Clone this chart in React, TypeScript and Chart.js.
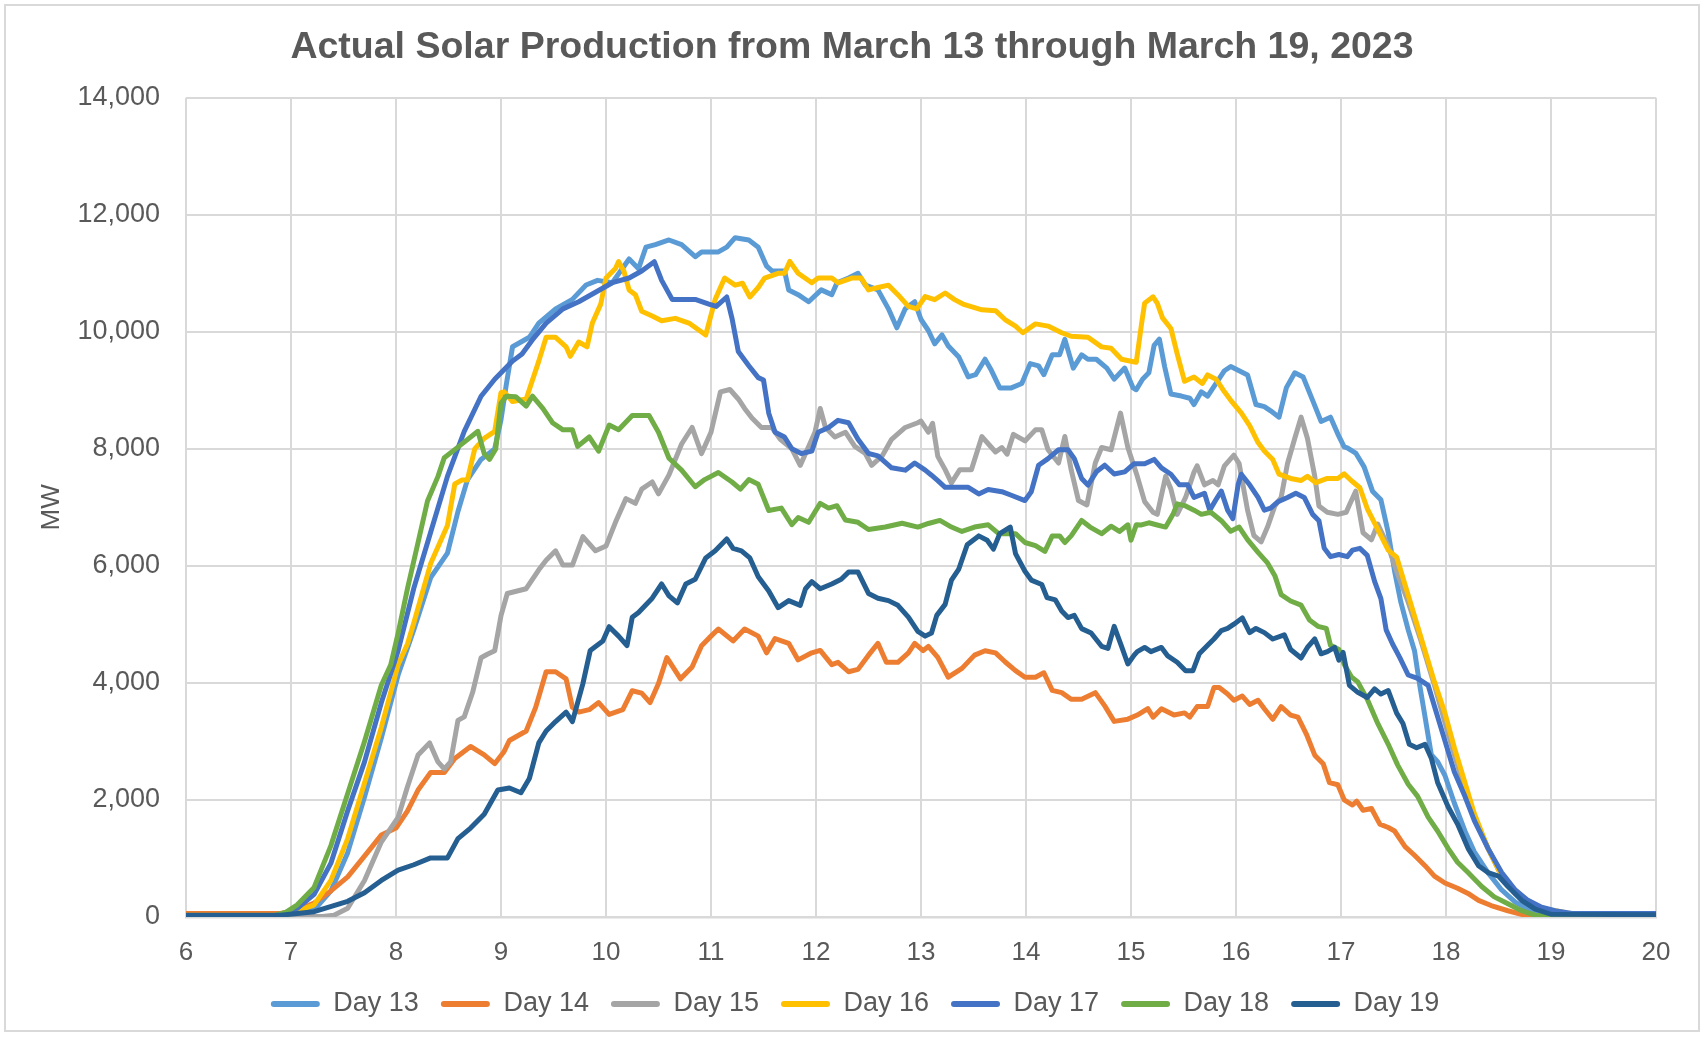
import { useEffect, useRef } from "react";
import { Chart, registerables } from "chart.js";

Chart.register(...registerables);

const chartTitle = "Actual Solar Production from March 13 through March 19, 2023";
const yAxisTitle = "MW";
const seriesNames = ["Day 13", "Day 14", "Day 15", "Day 16", "Day 17", "Day 18", "Day 19"];
const seriesColors = ["#5B9BD5", "#ED7D31", "#A5A5A5", "#FFC000", "#4472C4", "#70AD47", "#255E91"];
const xMin = 6;
const xMax = 20;
const xStep = 1;
const yMin = 0;
const yMax = 14000;
const yStep = 2000;

// [hour, MW]
const day13: [number, number][] = [
  [6, 40], [6.9, 40], [7.06, 70], [7.22, 119], [7.38, 446], [7.54, 1100], [7.7, 2050], [7.86, 3060], [8.02, 4135],
  [8.17, 4910], [8.33, 5800], [8.49, 6220], [8.59, 6930], [8.68, 7470], [8.81, 7820], [8.94, 8000], [9.0, 8500],
  [9.05, 9096], [9.11, 9745], [9.27, 9907], [9.36, 10150], [9.52, 10393], [9.68, 10555], [9.81, 10800], [9.92, 10880],
  [10.06, 10840], [10.22, 11245], [10.31, 11080], [10.38, 11447], [10.47, 11490], [10.6, 11570], [10.72, 11490],
  [10.85, 11285], [10.91, 11366], [11.07, 11366], [11.15, 11447], [11.23, 11609], [11.36, 11569], [11.45, 11447],
  [11.53, 11123], [11.58, 11042], [11.7, 11042], [11.74, 10717], [11.83, 10636], [11.93, 10515], [12.05, 10717],
  [12.15, 10636], [12.2, 10839], [12.31, 10920], [12.4, 11001], [12.47, 10798], [12.59, 10717], [12.69, 10393],
  [12.77, 10069], [12.85, 10393], [12.94, 10515], [13.0, 10211], [13.07, 10023], [13.13, 9796], [13.2, 9947],
  [13.26, 9758], [13.36, 9570], [13.45, 9230], [13.52, 9268], [13.61, 9532], [13.67, 9343], [13.75, 9042],
  [13.86, 9042], [13.96, 9117], [14.04, 9457], [14.12, 9419], [14.17, 9268], [14.25, 9608], [14.32, 9608],
  [14.37, 9872], [14.45, 9381], [14.53, 9608], [14.59, 9532], [14.67, 9532], [14.77, 9381], [14.84, 9192],
  [14.94, 9381], [15.02, 9042], [15.05, 9011], [15.11, 9191], [15.17, 9300], [15.22, 9769], [15.27, 9877],
  [15.32, 9408], [15.38, 8939], [15.48, 8903], [15.56, 8866], [15.6, 8758], [15.67, 8975], [15.73, 8903],
  [15.81, 9119], [15.89, 9336], [15.95, 9408], [16.03, 9336], [16.11, 9264], [16.19, 8758], [16.27, 8722],
  [16.33, 8650], [16.41, 8542], [16.48, 9047], [16.56, 9300], [16.64, 9227], [16.73, 8830], [16.81, 8469],
  [16.9, 8542], [16.97, 8253], [17.03, 8036], [17.06, 8018], [17.14, 7929], [17.22, 7692], [17.3, 7277],
  [17.38, 7129], [17.45, 6566], [17.51, 5914], [17.57, 5381], [17.64, 4907], [17.7, 4551], [17.75, 3959],
  [17.8, 3425], [17.86, 2773], [17.92, 2655], [17.99, 2418], [18.08, 1944], [18.18, 1470], [18.27, 1114],
  [18.4, 759], [18.53, 462], [18.66, 255], [18.78, 136], [18.91, 77], [19.1, 50], [20, 50],
];

const day14: [number, number][] = [
  [6, 60], [6.9, 60], [7.06, 119], [7.22, 238], [7.38, 446], [7.54, 685], [7.7, 1040], [7.86, 1400], [8.0, 1520],
  [8.11, 1815], [8.21, 2170], [8.33, 2470], [8.46, 2470], [8.56, 2710], [8.71, 2915], [8.84, 2770], [8.94, 2620],
  [9.03, 2830], [9.08, 3016], [9.24, 3178], [9.33, 3583], [9.43, 4191], [9.52, 4191], [9.62, 4070], [9.68, 3583],
  [9.74, 3502], [9.84, 3543], [9.93, 3664], [10.03, 3462], [10.16, 3543], [10.25, 3867], [10.34, 3826],
  [10.42, 3664], [10.5, 3989], [10.58, 4434], [10.71, 4070], [10.82, 4272], [10.91, 4637], [11.0, 4800],
  [11.07, 4921], [11.21, 4718], [11.32, 4921], [11.45, 4800], [11.53, 4515], [11.61, 4759], [11.74, 4677],
  [11.83, 4394], [11.96, 4515], [12.04, 4556], [12.15, 4313], [12.21, 4353], [12.31, 4191], [12.4, 4232],
  [12.5, 4475], [12.59, 4677], [12.67, 4353], [12.78, 4353], [12.88, 4515], [12.94, 4677], [13.02, 4551],
  [13.07, 4626], [13.16, 4438], [13.26, 4098], [13.39, 4249], [13.51, 4475], [13.61, 4551], [13.71, 4513],
  [13.8, 4362], [13.9, 4211], [13.99, 4098], [14.09, 4098], [14.17, 4174], [14.25, 3872], [14.34, 3834],
  [14.43, 3721], [14.53, 3721], [14.66, 3834], [14.75, 3608], [14.84, 3343], [14.97, 3381], [15.06, 3451],
  [15.16, 3560], [15.21, 3415], [15.29, 3560], [15.41, 3451], [15.51, 3488], [15.56, 3415], [15.63, 3596],
  [15.73, 3596], [15.79, 3921], [15.84, 3921], [15.92, 3812], [15.98, 3704], [16.06, 3776], [16.13, 3632],
  [16.21, 3704], [16.27, 3560], [16.35, 3379], [16.43, 3596], [16.52, 3451], [16.59, 3415], [16.67, 3127],
  [16.75, 2766], [16.83, 2621], [16.89, 2297], [16.97, 2260], [17.03, 2003], [17.11, 1914], [17.15, 1980],
  [17.21, 1825], [17.29, 1855], [17.37, 1588], [17.45, 1529], [17.51, 1470], [17.61, 1203], [17.7, 1055],
  [17.8, 877], [17.89, 699], [17.99, 581], [18.11, 492], [18.21, 403], [18.31, 285], [18.43, 196], [18.59, 107],
  [18.75, 30], [19, 20], [20, 20],
];

const day15: [number, number][] = [
  [6, 10], [7.3, 10], [7.41, 30], [7.54, 150], [7.7, 625], [7.86, 1280], [8.02, 1700], [8.11, 2230], [8.21, 2770],
  [8.32, 2975], [8.4, 2650], [8.46, 2530], [8.52, 2650], [8.59, 3360], [8.65, 3420], [8.73, 3840], [8.81, 4430],
  [8.87, 4490], [8.94, 4550], [9.0, 5150], [9.06, 5529], [9.24, 5610], [9.36, 5934], [9.43, 6096], [9.52, 6258],
  [9.59, 6015], [9.68, 6015], [9.78, 6501], [9.9, 6258], [10.0, 6339], [10.09, 6745], [10.19, 7150], [10.28, 7070],
  [10.34, 7312], [10.44, 7434], [10.5, 7231], [10.6, 7556], [10.72, 8083], [10.82, 8366], [10.91, 7920],
  [11.0, 8285], [11.09, 8974], [11.18, 9015], [11.26, 8853], [11.32, 8691], [11.39, 8528], [11.48, 8366],
  [11.58, 8366], [11.66, 8164], [11.77, 8002], [11.85, 7718], [11.93, 8042], [11.99, 8285], [12.04, 8691],
  [12.09, 8366], [12.18, 8204], [12.28, 8285], [12.37, 8042], [12.47, 7921], [12.53, 7718], [12.63, 7880],
  [12.72, 8164], [12.85, 8366], [12.97, 8447], [13.0, 8475], [13.07, 8287], [13.11, 8438], [13.16, 7872],
  [13.23, 7645], [13.29, 7419], [13.37, 7645], [13.48, 7645], [13.58, 8211], [13.71, 7947], [13.77, 8023],
  [13.82, 7909], [13.88, 8249], [13.99, 8136], [14.09, 8325], [14.15, 8325], [14.21, 7985], [14.31, 7759],
  [14.37, 8211], [14.43, 7645], [14.5, 7117], [14.58, 7042], [14.66, 7759], [14.72, 8023], [14.81, 7985],
  [14.9, 8611], [14.97, 8023], [15.06, 7531], [15.13, 7098], [15.21, 6917], [15.25, 6881], [15.33, 7531],
  [15.38, 7314], [15.44, 6881], [15.52, 7170], [15.6, 7603], [15.63, 7711], [15.7, 7386], [15.78, 7459],
  [15.83, 7386], [15.89, 7711], [15.98, 7892], [16.03, 7747], [16.11, 6953], [16.17, 6520], [16.24, 6412],
  [16.3, 6664], [16.37, 7025], [16.43, 7170], [16.49, 7747], [16.56, 8181], [16.62, 8542], [16.68, 8181],
  [16.75, 7531], [16.79, 7025], [16.87, 6917], [16.97, 6881], [17.05, 6917], [17.08, 7040], [17.14, 7277],
  [17.21, 6566], [17.29, 6447], [17.35, 6714], [17.45, 6329], [17.54, 5855], [17.64, 5381], [17.76, 4729],
  [17.89, 3959], [18.02, 3129], [18.15, 2359], [18.27, 1707], [18.4, 1173], [18.53, 699], [18.66, 400],
  [18.85, 136], [19.05, 40], [20, 40],
];

const day16: [number, number][] = [
  [6, 30], [6.95, 30], [7.06, 100], [7.22, 208], [7.38, 625], [7.54, 1340], [7.7, 2290], [7.86, 3240], [8.02, 4310],
  [8.11, 4670], [8.17, 5030], [8.33, 6040], [8.49, 6690], [8.56, 7400], [8.63, 7470], [8.68, 7470], [8.75, 8000],
  [8.84, 8180], [8.94, 8300], [9.0, 8960], [9.03, 8975], [9.11, 8810], [9.24, 8853], [9.3, 9177], [9.36, 9500],
  [9.43, 9907], [9.52, 9907], [9.62, 9745], [9.66, 9582], [9.74, 9826], [9.82, 9745], [9.87, 10150], [9.95, 10474],
  [10.0, 10920], [10.09, 11082], [10.12, 11200], [10.17, 11040], [10.22, 10717], [10.28, 10636], [10.34, 10352],
  [10.44, 10272], [10.53, 10190], [10.66, 10231], [10.79, 10150], [10.95, 9947], [11.04, 10555], [11.13, 10920],
  [11.23, 10798], [11.3, 10830], [11.37, 10596], [11.45, 10758], [11.51, 10920], [11.64, 11001], [11.7, 11001],
  [11.75, 11204], [11.83, 11001], [11.96, 10839], [12.02, 10920], [12.15, 10920], [12.21, 10839], [12.34, 10920],
  [12.43, 10920], [12.5, 10717], [12.59, 10758], [12.69, 10798], [12.78, 10636], [12.88, 10434], [12.96, 10393],
  [13.04, 10604], [13.13, 10551], [13.23, 10664], [13.32, 10551], [13.4, 10475], [13.58, 10377], [13.71, 10362],
  [13.8, 10211], [13.9, 10098], [13.97, 9985], [14.09, 10136], [14.21, 10098], [14.34, 9985], [14.43, 9925],
  [14.59, 9909], [14.72, 9743], [14.81, 9721], [14.91, 9532], [15.01, 9494], [15.05, 9480], [15.1, 10130],
  [15.13, 10491], [15.21, 10599], [15.25, 10491], [15.3, 10238], [15.38, 10058], [15.44, 9625], [15.51, 9155],
  [15.6, 9227], [15.68, 9119], [15.73, 9264], [15.81, 9191], [15.89, 8975], [15.95, 8830], [16.05, 8614],
  [16.13, 8397], [16.21, 8108], [16.27, 7964], [16.35, 7820], [16.41, 7567], [16.52, 7495], [16.62, 7459],
  [16.68, 7531], [16.76, 7423], [16.87, 7495], [16.97, 7495], [17.03, 7573], [17.1, 7455], [17.18, 7336],
  [17.25, 6981], [17.35, 6625], [17.45, 6270], [17.53, 6151], [17.61, 5677], [17.7, 5144], [17.8, 4551],
  [17.89, 4018], [17.99, 3484], [18.08, 2892], [18.18, 2300], [18.27, 1766], [18.4, 1173], [18.53, 699],
  [18.66, 403], [18.78, 225], [18.91, 136], [19.04, 107], [19.2, 50], [20, 50],
];

const day17: [number, number][] = [
  [6, 20], [6.9, 30], [7.06, 150], [7.22, 387], [7.38, 920], [7.54, 1815], [7.7, 2650], [7.86, 3660], [8.02, 4550],
  [8.17, 5620], [8.33, 6575], [8.49, 7530], [8.65, 8300], [8.81, 8900], [8.94, 9190], [9.11, 9500], [9.2, 9623],
  [9.3, 9866], [9.43, 10150], [9.59, 10393], [9.74, 10515], [9.9, 10677], [10.06, 10840], [10.22, 10920],
  [10.34, 11040], [10.46, 11200], [10.53, 10880], [10.63, 10555], [10.72, 10555], [10.85, 10555], [10.98, 10474],
  [11.05, 10434], [11.15, 10596], [11.2, 10231], [11.26, 9663], [11.36, 9420], [11.45, 9218], [11.5, 9177],
  [11.55, 8610], [11.61, 8285], [11.7, 8204], [11.77, 8002], [11.86, 7921], [11.96, 7961], [12.02, 8285],
  [12.12, 8366], [12.21, 8488], [12.31, 8447], [12.4, 8164], [12.5, 7921], [12.59, 7880], [12.72, 7677],
  [12.85, 7637], [12.94, 7758], [13.04, 7637], [13.1, 7550], [13.16, 7457], [13.23, 7343], [13.36, 7343],
  [13.45, 7343], [13.55, 7230], [13.64, 7306], [13.77, 7268], [13.86, 7208], [13.99, 7117], [14.05, 7268],
  [14.12, 7721], [14.21, 7834], [14.31, 7985], [14.4, 7985], [14.46, 7834], [14.53, 7494], [14.59, 7381],
  [14.67, 7608], [14.75, 7721], [14.84, 7570], [14.94, 7608], [15.03, 7747], [15.13, 7747], [15.22, 7820],
  [15.29, 7675], [15.38, 7567], [15.46, 7386], [15.54, 7386], [15.6, 7170], [15.7, 7242], [15.75, 6953],
  [15.81, 7134], [15.86, 7278], [15.92, 6953], [15.97, 6809], [16.02, 7386], [16.05, 7567], [16.13, 7386],
  [16.21, 7170], [16.27, 6953], [16.33, 6989], [16.4, 7098], [16.49, 7170], [16.57, 7242], [16.65, 7170],
  [16.73, 6881], [16.79, 6773], [16.84, 6304], [16.9, 6159], [16.98, 6195], [17.06, 6159], [17.11, 6270],
  [17.18, 6300], [17.25, 6181], [17.32, 5736], [17.38, 5440], [17.43, 4907], [17.49, 4670], [17.56, 4433],
  [17.64, 4136], [17.73, 4077], [17.83, 3959], [17.89, 3603], [17.99, 3010], [18.08, 2477], [18.18, 2062],
  [18.27, 1647], [18.4, 1173], [18.53, 759], [18.66, 462], [18.78, 285], [18.91, 166], [19.04, 107], [19.2, 60],
  [20, 60],
];

const day18: [number, number][] = [
  [6, 20], [6.85, 30], [6.95, 80], [7.06, 208], [7.22, 506], [7.38, 1220], [7.54, 2110], [7.7, 3000], [7.86, 3960],
  [7.95, 4310], [8.02, 4850], [8.11, 5620], [8.21, 6400], [8.3, 7110], [8.4, 7530], [8.46, 7850], [8.59, 8030],
  [8.78, 8300], [8.84, 7920], [8.89, 7820], [8.95, 8000], [9.0, 8780], [9.05, 8900], [9.14, 8893], [9.24, 8731],
  [9.3, 8900], [9.4, 8690], [9.49, 8447], [9.59, 8326], [9.68, 8326], [9.73, 8042], [9.84, 8204], [9.93, 7961],
  [10.03, 8407], [10.12, 8326], [10.25, 8569], [10.41, 8569], [10.5, 8285], [10.6, 7840], [10.72, 7637],
  [10.85, 7353], [10.94, 7475], [11.07, 7596], [11.2, 7434], [11.28, 7312], [11.36, 7475], [11.45, 7394],
  [11.55, 6948], [11.67, 6988], [11.77, 6704], [11.83, 6826], [11.93, 6745], [12.04, 7069], [12.12, 6988],
  [12.2, 7029], [12.28, 6785], [12.4, 6745], [12.5, 6623], [12.66, 6664], [12.82, 6729], [12.97, 6664],
  [13.07, 6725], [13.18, 6777], [13.29, 6664], [13.39, 6589], [13.51, 6664], [13.64, 6702], [13.74, 6551],
  [13.9, 6551], [13.99, 6400], [14.09, 6347], [14.18, 6249], [14.25, 6513], [14.32, 6513], [14.37, 6400],
  [14.43, 6513], [14.53, 6777], [14.61, 6664], [14.72, 6551], [14.81, 6679], [14.89, 6589], [14.97, 6702],
  [15.0, 6438], [15.05, 6702], [15.1, 6700], [15.17, 6737], [15.25, 6700], [15.33, 6664], [15.4, 6881],
  [15.44, 7061], [15.52, 7025], [15.6, 6953], [15.67, 6881], [15.76, 6917], [15.86, 6773], [15.95, 6592],
  [16.03, 6664], [16.11, 6448], [16.21, 6231], [16.3, 6051], [16.37, 5834], [16.43, 5509], [16.52, 5401],
  [16.62, 5329], [16.7, 5076], [16.78, 4968], [16.86, 4932], [16.9, 4643], [16.98, 4571], [17.03, 4318],
  [17.1, 4100], [17.16, 4018], [17.25, 3721], [17.35, 3307], [17.45, 2951], [17.54, 2596], [17.64, 2270],
  [17.73, 2062], [17.83, 1707], [17.92, 1470], [18.02, 1173], [18.11, 936], [18.21, 759], [18.34, 522],
  [18.46, 344], [18.59, 225], [18.72, 107], [18.85, 30], [20, 20],
];

const day19: [number, number][] = [
  [6, 30], [6.9, 30], [7.06, 60], [7.22, 90], [7.54, 268], [7.7, 416], [7.86, 625], [8.02, 803], [8.17, 893],
  [8.33, 1010], [8.49, 1010], [8.59, 1340], [8.71, 1520], [8.84, 1755], [8.97, 2170], [9.08, 2205], [9.19, 2124],
  [9.27, 2367], [9.36, 2975], [9.43, 3178], [9.52, 3340], [9.62, 3502], [9.68, 3340], [9.78, 3989], [9.85, 4556],
  [9.97, 4718], [10.03, 4961], [10.12, 4800], [10.2, 4637], [10.25, 5124], [10.31, 5205], [10.44, 5448],
  [10.53, 5691], [10.6, 5488], [10.68, 5367], [10.76, 5691], [10.85, 5772], [10.95, 6137], [11.04, 6258],
  [11.15, 6461], [11.21, 6299], [11.29, 6258], [11.37, 6137], [11.45, 5813], [11.55, 5570], [11.64, 5286],
  [11.74, 5407], [11.85, 5326], [11.9, 5610], [11.96, 5732], [12.04, 5610], [12.15, 5691], [12.24, 5772],
  [12.31, 5894], [12.4, 5894], [12.5, 5529], [12.59, 5448], [12.69, 5407], [12.78, 5326], [12.88, 5124],
  [12.97, 4880], [13.04, 4800], [13.1, 4853], [13.15, 5155], [13.23, 5343], [13.29, 5758], [13.36, 5947],
  [13.44, 6362], [13.55, 6513], [13.63, 6438], [13.69, 6287], [13.75, 6551], [13.85, 6664], [13.9, 6211],
  [13.99, 5909], [14.05, 5758], [14.15, 5683], [14.2, 5457], [14.28, 5419], [14.34, 5230], [14.4, 5117],
  [14.46, 5155], [14.53, 4928], [14.62, 4853], [14.72, 4626], [14.78, 4589], [14.84, 4966], [14.91, 4626],
  [14.97, 4324], [15.03, 4475], [15.06, 4535], [15.13, 4607], [15.19, 4535], [15.29, 4607], [15.35, 4462],
  [15.44, 4354], [15.52, 4210], [15.59, 4210], [15.65, 4498], [15.73, 4643], [15.79, 4751], [15.86, 4896],
  [15.92, 4932], [15.98, 5004], [16.06, 5112], [16.13, 4860], [16.19, 4932], [16.27, 4860], [16.35, 4751],
  [16.46, 4823], [16.52, 4571], [16.62, 4426], [16.68, 4607], [16.75, 4751], [16.81, 4498], [16.87, 4535],
  [16.94, 4607], [16.98, 4390], [17.02, 4522], [17.08, 3959], [17.16, 3840], [17.25, 3751], [17.32, 3900],
  [17.38, 3810], [17.45, 3870], [17.53, 3484], [17.59, 3307], [17.65, 2951], [17.72, 2892], [17.8, 2951],
  [17.86, 2714], [17.92, 2300], [18.02, 1885], [18.11, 1588], [18.21, 1173], [18.31, 877], [18.4, 759],
  [18.5, 699], [18.59, 522], [18.72, 285], [18.85, 136], [19.0, 47], [20, 40],
];

const seriesData = [day13, day14, day15, day16, day17, day18, day19];

const FONT = "'Liberation Sans', Arial, Helvetica, sans-serif";
const TEXT = "#595959";
const GRID = "#D9D9D9";

export default function App() {
  const canvasRef = useRef<HTMLCanvasElement | null>(null);

  useEffect(() => {
    document.body.style.margin = "0";
    document.body.style.overflow = "hidden";
    const canvas = canvasRef.current;
    if (!canvas) return;

    const framePlugin = {
      id: "frame",
      beforeDraw(chart: any) {
        const c = chart.ctx;
        c.save();
        c.fillStyle = "#FFFFFF";
        c.fillRect(0, 0, chart.width, chart.height);
        c.strokeStyle = GRID;
        c.lineWidth = 2;
        c.strokeRect(5, 5, 1694, 1026);
        c.restore();
      },
    };

    const blockPlace = {
      id: "blockPlace",
      afterLayout(chart: any) {
        const lg = chart.legend;
        if (lg) {
          lg.left = 54;
          lg.right = 1656;
        }
        const tb = chart.titleBlock;
        if (tb) {
          tb.left = 48;
          tb.right = 1656;
        }
      },
    };

    const chart = new Chart(canvas, {
      type: "line",
      data: {
        datasets: seriesData.map((pts, i) => ({
          label: seriesNames[i],
          data: pts.map(([x, y]) => ({ x, y })),
          borderColor: seriesColors[i],
          backgroundColor: seriesColors[i],
          borderWidth: 5,
          pointRadius: 0,
          tension: 0,
          fill: false,
          borderJoinStyle: "round",
          borderCapStyle: "round",
          order: seriesNames.length - i,
        })),
      },
      options: {
        responsive: false,
        animation: false,
        events: [],
        layout: { padding: { left: 20, right: 48, top: 0, bottom: 9.5 } },
        plugins: {
          title: {
            display: true,
            text: chartTitle,
            color: TEXT,
            font: { family: FONT, size: 37.5, weight: "bold" },
            padding: { top: 25.4, bottom: 27.4 },
          },
          legend: {
            position: "bottom",
            labels: {
              boxWidth: 49,
              boxHeight: 6,
              padding: 22,
              color: TEXT,
              font: { family: FONT, size: 27 },
              generateLabels: (ch: any) =>
                ch.data.datasets.map((d: any, i: number) => ({
                  text: d.label,
                  fillStyle: d.borderColor,
                  strokeStyle: d.borderColor,
                  lineWidth: 0,
                  hidden: false,
                  datasetIndex: i,
                  fontColor: TEXT,
                  borderRadius: 3,
                })),
            },
          },
          tooltip: { enabled: false },
        },
        scales: {
          x: {
            type: "linear",
            min: xMin,
            max: xMax,
            ticks: {
              stepSize: xStep,
              color: TEXT,
              font: { family: FONT, size: 26 },
              padding: 20,
              maxRotation: 0,
              autoSkip: false,
            },
            grid: { color: GRID, lineWidth: 2, drawTicks: false },
            border: { color: GRID, width: 2.5 },
            afterFit: (s: any) => {
              s.height = 51.5;
            },
          },
          y: {
            type: "linear",
            min: yMin,
            max: yMax,
            ticks: {
              stepSize: yStep,
              color: TEXT,
              font: { family: FONT, size: 27 },
              padding: 26,
              callback: (v: any) => Number(v).toLocaleString("en-US"),
            },
            grid: { color: GRID, lineWidth: 2, drawTicks: false },
            border: { display: false },
            title: {
              display: true,
              text: yAxisTitle,
              color: TEXT,
              font: { family: FONT, size: 26 },
              padding: { top: 16.4, bottom: 0 },
            },
            afterFit: (s: any) => {
              s.width = 166;
            },
          },
        },
      },
      plugins: [framePlugin, blockPlace],
    } as any);

    return () => chart.destroy();
  }, []);

  return (
    <div style={{ position: "absolute", left: 0, top: 0, width: 1704, height: 1037 }}>
      <canvas ref={canvasRef} width={1704} height={1037} style={{ width: 1704, height: 1037, display: "block" }} />
    </div>
  );
}
